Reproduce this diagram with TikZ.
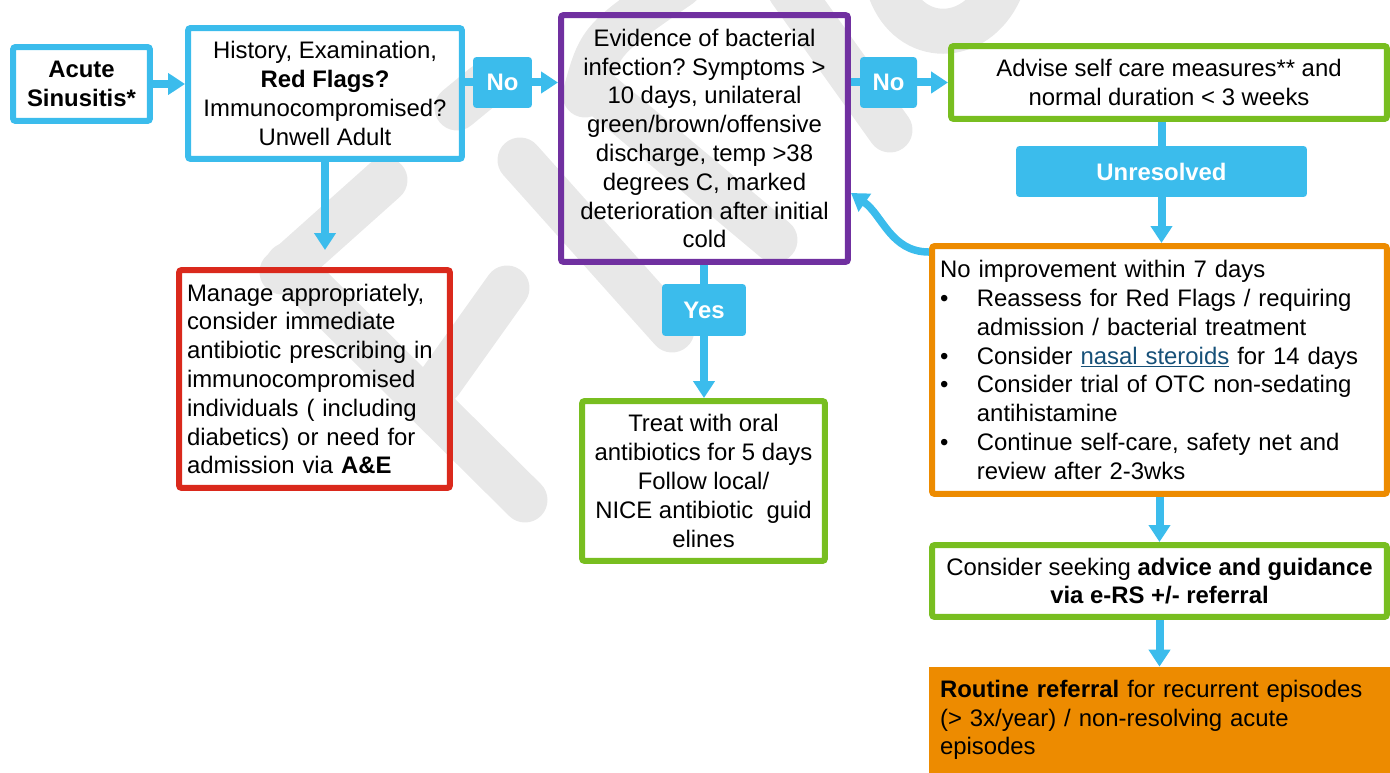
\documentclass[tikz,border=0pt]{standalone}
\usepackage{fontspec}
\setmainfont{Liberation Sans}
\usepackage{tikz}
\usetikzlibrary{arrows.meta}
\frenchspacing

\definecolor{flowblue}{RGB}{59,188,236}
\definecolor{flowpurple}{RGB}{112,48,160}
\definecolor{flowred}{RGB}{218,41,28}
\definecolor{flowgreen}{RGB}{120,190,32}
\definecolor{floworange}{RGB}{237,139,0}
\definecolor{linkblue}{RGB}{22,80,120}
\definecolor{wmgray}{RGB}{232,232,232}

\newcommand{\bitem}{\makebox[21pt][l]{\textbullet}}
\newcommand{\bindent}{\hspace*{21pt}}
\newcommand{\weblink}[1]{\textcolor{linkblue}{\underline{#1}}}

\begin{document}
\begin{tikzpicture}[x=0.02cm, y=-0.02cm,
    every node/.style = {shape=rectangle, align=center, inner ysep=2pt,
          font=\fontsize{13.6}{16.4}\selectfont},
    box/.style = {draw=#1, line width=0.12cm, rounded corners=1.5pt},
    answer/.style = {fill=flowblue, rounded corners=2pt, text=white,
          font=\fontsize{13.6}{16.4}\selectfont\bfseries},
    flow/.style = {draw=flowblue, line width=0.16cm},
    flowarrow/.style = {flow, -{Triangle[width=0.42cm,length=0.34cm]}},
    watermark/.style = {draw=wmgray, line width=0.9cm, line cap=round}]
  \useasboundingbox (0,0) rectangle (1390,773);

  \draw[watermark] (385,180) -- (282,272);
  \draw[watermark] (288,265) -- (525,500);
  \draw[watermark] (507,288) -- (440,382);
  \draw[watermark] (520,160) -- (672,330);
  \draw[watermark] (457,108) -- (485,85);
  \draw[watermark] (590,85) -- (775,240);
  \draw[watermark] (585,95) .. controls (600,40) .. (680,-15);
  \draw[watermark] (790,-10) -- (890,130);
  \draw[watermark] (890,-10) .. controls (910,45) and (975,45) .. (1000,-10);

  \node[box=flowblue, minimum width=2.74cm, minimum height=1.48cm]
    (acute) at (81.5,84) {\textbf{Acute}\\ \textbf{Sinusitis*}};
  \node[box=flowblue, minimum width=5.48cm, minimum height=2.62cm]
    (history) at (325,93.5) {History, Examination,\\ \textbf{Red Flags?}\\
    Immunocompromised?\\ Unwell Adult};
  \node[box=flowpurple, minimum width=5.74cm, minimum height=4.94cm]
    (evidence) at (704.5,138.5) {Evidence of bacterial\\ infection? Symptoms >\\
    10 days, unilateral\\ green/brown/offensive\\ discharge, temp >38\\
    degrees C, marked\\ deterioration after initial\\ cold};
  \node[box=flowgreen, minimum width=8.72cm, minimum height=1.46cm]
    (advise) at (1169,82.5) {Advise self care measures** and\\ normal duration < 3 weeks};
  \node[box=flowred, minimum width=5.42cm, minimum height=4.36cm, align=left,
    text width=5.1cm, inner xsep=0.16cm]
    (manage) at (314.5,379) {Manage appropriately,\\ consider immediate\\
    antibiotic prescribing in\\ immunocompromised\\ individuals ( including\\
    diabetics) or need for\\ admission via \textbf{A\&E}};
  \node[box=flowgreen, minimum width=4.86cm, minimum height=3.2cm]
    (treat) at (703.5,481) {Treat with oral\\ antibiotics for 5 days\\ Follow local/\\
    NICE antibiotic\ \ guid\\ elines};
  \node[box=floworange, minimum width=9.1cm, minimum height=4.96cm, align=left,
    text width=8.78cm, inner xsep=0.16cm]
    (noimprove) at (1159.5,370) {No improvement within 7 days\\
    \bitem Reassess for Red Flags / requiring\\
    \bindent admission / bacterial treatment\\
    \bitem Consider \weblink{nasal steroids} for 14 days\\
    \bitem Consider trial of OTC non-sedating\\
    \bindent antihistamine\\
    \bitem Continue self-care, safety net and\\
    \bindent review after 2-3wks};
  \node[box=flowgreen, minimum width=9.1cm, minimum height=1.44cm]
    (seekadvice) at (1159.5,581) {Consider seeking \textbf{advice and guidance}\\
    \textbf{via e-RS +/- referral}};
  \node[fill=floworange, minimum width=9.22cm, minimum height=2.12cm, align=left,
    text width=8.78cm, inner xsep=0.22cm]
    (routine) at (1159.5,720) {\textbf{Routine referral} for recurrent episodes\\
    (> 3x/year) / non-resolving acute\\ episodes};

  \node[answer, minimum width=1.18cm, minimum height=1.02cm] (noA) at (502.5,82.5) {No};
  \node[answer, minimum width=1.14cm, minimum height=1.02cm] (noB) at (888.5,82.5) {No};
  \node[answer, minimum width=1.68cm, minimum height=1.04cm] (yes) at (704,310) {Yes};
  \node[answer, minimum width=5.82cm, minimum height=1.02cm] (unresolved) at (1161.5,171.5) {Unresolved};

  \draw[flowarrow] (acute.east) -- (acute.east -| history.west);
  \draw[flow] (history.east |- noA.west) -- (noA.west);
  \draw[flowarrow] (noA.east) -- (noA.east -| evidence.west);
  \draw[flow] (evidence.east |- noB.west) -- (noB.west);
  \draw[flowarrow] (noB.east) -- (noB.east -| advise.west);
  \draw[flowarrow, shorten >=0.34cm] (history.south) -- (history.south |- manage.north);
  \draw[flow] (yes.north |- evidence.south) -- (yes.north);
  \draw[flowarrow] (yes.south) -- (yes.south |- treat.north);
  \draw[flow] (unresolved.north |- advise.south) -- (unresolved.north);
  \draw[flowarrow] (unresolved.south) -- (unresolved.south |- noimprove.north);
  \draw[flowarrow] (seekadvice.north |- noimprove.south) -- (seekadvice.north);
  \draw[flowarrow] (seekadvice.south) -- (seekadvice.south |- routine.north);
  \draw[flowarrow, line width=0.15cm] ([yshift=-0.18cm]noimprove.north west)
    to[out=180, in=-35] ([yshift=-1.09cm]evidence.east);
\end{tikzpicture}
\end{document}
